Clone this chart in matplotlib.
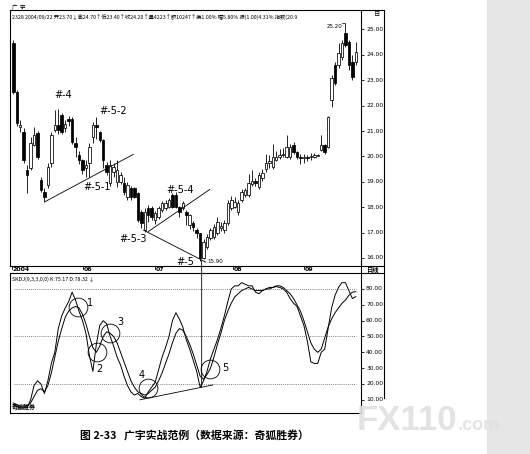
import matplotlib
matplotlib.use("Agg")
import matplotlib.pyplot as plt
import matplotlib.transforms as mtrans
from matplotlib.lines import Line2D
from matplotlib.patches import Rectangle, ConnectionPatch

plt.rcParams['font.family'] = ['Noto Sans CJK SC', 'DejaVu Sans']

# ---- data ----
opens = [24.46, 22.54, 21.15, 20.96, 19.46, 19.54, 20.45, 20.92, 19.07, 18.60,
         18.87, 19.74, 21.04, 21.24, 21.63, 21.10, 21.47, 21.47, 20.53, 20.06,
         19.86, 19.54, 19.74, 20.76, 21.24, 20.96, 20.65, 19.66, 18.95, 19.39,
         18.99, 18.99, 18.95, 18.40, 18.76, 18.76, 18.56, 17.81, 17.10, 17.97,
         17.97, 17.50, 17.61, 17.89, 17.97, 18.00, 18.48, 18.48, 18.00, 17.97,
         17.81, 17.30, 17.38, 17.10, 16.98, 16.00, 16.43, 16.79, 16.83, 16.98,
         17.18, 17.10, 17.38, 17.97, 18.00, 17.81, 18.28, 18.48, 18.48, 18.91,
         19.03, 18.80, 19.15, 19.50, 19.74, 19.58, 19.86, 19.98, 20.04, 19.98,
         19.98, 20.45, 20.17, 19.98, 19.92, 19.96, 19.96, 19.98, 20.02, 20.25,
         20.45, 20.37, 22.22, 23.60, 23.60, 23.91, 24.86, 24.50, 23.72, 23.72]
highs = [24.60, 22.60, 21.43, 21.10, 19.66, 20.75, 21.16, 21.00, 19.20, 18.75,
         19.75, 20.95, 21.83, 21.85, 21.70, 21.45, 21.60, 21.55, 20.75, 20.20,
         19.90, 19.86, 20.53, 21.35, 21.55, 21.00, 20.70, 19.78, 19.86, 19.75,
         19.86, 19.40, 19.20, 19.00, 18.85, 18.80, 18.60, 17.90, 17.95, 18.10,
         18.05, 17.85, 18.05, 18.25, 18.30, 18.36, 18.55, 18.60, 18.05, 18.25,
         17.90, 17.75, 17.45, 17.20, 17.00, 16.75, 16.95, 17.20, 17.35, 17.60,
         17.40, 17.50, 18.30, 18.45, 18.40, 18.30, 18.70, 18.75, 19.30, 19.45,
         19.15, 19.40, 19.50, 20.10, 20.05, 20.50, 20.20, 20.30, 20.35, 20.85,
         20.50, 20.55, 20.20, 20.10, 20.10, 20.05, 20.12, 20.15, 20.10, 20.85,
         20.50, 21.60, 23.20, 23.70, 24.45, 24.60, 25.20, 24.60, 24.00, 24.50]
lows = [22.45, 21.20, 20.96, 19.75, 18.56, 19.46, 20.40, 19.90, 18.60, 18.20,
        18.75, 19.60, 20.95, 20.90, 20.90, 20.95, 21.20, 20.50, 19.98, 19.70,
        19.30, 19.20, 19.20, 20.53, 20.70, 20.55, 19.54, 19.27, 18.83, 19.20,
        18.80, 18.90, 18.50, 18.30, 18.30, 18.35, 17.40, 17.20, 17.03, 17.40,
        17.50, 17.35, 17.55, 17.80, 17.90, 17.95, 17.95, 17.95, 17.60, 17.90,
        17.30, 17.15, 17.05, 16.80, 15.90, 15.95, 16.35, 16.70, 16.75, 16.90,
        17.05, 17.00, 17.30, 17.90, 17.95, 17.70, 18.20, 18.40, 18.40, 18.85,
        18.85, 18.70, 19.05, 19.40, 19.55, 19.50, 19.80, 19.90, 19.98, 19.95,
        19.90, 20.10, 19.90, 19.70, 19.75, 19.80, 19.85, 19.95, 20.00, 20.20,
        20.10, 20.35, 21.95, 22.80, 23.50, 23.80, 24.30, 23.40, 23.00, 23.60]
closes = [22.54, 21.31, 21.25, 19.86, 19.27, 20.53, 20.84, 19.98, 18.68, 18.40,
          19.58, 20.84, 21.24, 21.04, 20.96, 21.28, 21.39, 20.57, 20.37, 19.86,
          19.46, 19.66, 20.37, 21.24, 21.16, 20.65, 19.86, 19.39, 19.66, 19.58,
          19.46, 19.27, 18.60, 18.87, 18.40, 18.40, 17.50, 17.38, 17.81, 17.69,
          17.61, 17.77, 17.97, 18.17, 18.17, 18.28, 18.00, 18.00, 17.81, 18.17,
          17.69, 17.69, 17.22, 16.98, 16.00, 16.63, 16.83, 17.10, 17.22, 17.42,
          17.26, 17.38, 18.17, 18.28, 18.20, 18.17, 18.60, 18.68, 18.95, 19.03,
          18.95, 19.27, 19.35, 19.75, 19.80, 19.98, 19.98, 20.06, 20.08, 20.37,
          20.37, 20.17, 19.98, 19.94, 19.96, 19.92, 20.00, 20.06, 20.07, 20.45,
          20.17, 21.55, 23.09, 22.89, 24.07, 24.46, 24.39, 23.60, 23.13, 24.11]

k_vals = [7, 6, 5, 5, 5, 10, 19, 22, 20, 14,
          22, 33, 40, 55, 63, 68, 72, 78, 73, 66,
          60, 52, 38, 28, 45, 57, 60, 58, 50, 44,
          37, 32, 25, 19, 15, 13, 14, 12, 11, 15,
          18, 21, 29, 37, 43, 50, 60, 65, 61, 56,
          48, 42, 35, 28, 18, 22, 28, 36, 42, 48,
          55, 63, 72, 80, 82, 82, 84, 83, 82, 82,
          78, 77, 79, 80, 80, 81, 81.5, 81, 80, 78,
          74, 71, 69, 63, 57, 47, 34, 33, 33, 40,
          42, 55, 68, 76, 81, 84, 84, 79, 74, 75.17]
d_vals = [8, 7, 6, 6, 6, 8, 12, 16, 17, 15,
          19, 27, 37, 47, 55, 62, 66, 68, 69, 68,
          64, 58, 50, 43, 40, 44, 50, 53, 52, 50,
          46, 40, 34, 28, 22, 18, 15, 14, 13, 14,
          16, 18, 22, 27, 33, 39, 46, 52, 55, 54,
          50, 45, 39, 32, 25, 23, 26, 30, 37, 45,
          52, 60, 66, 71, 75, 77, 79, 80, 81, 80,
          79, 79, 79, 80, 81, 81, 82, 82, 81, 79,
          77, 74, 70, 66, 60, 53, 46, 42, 40, 42,
          49, 56, 61, 65, 68, 71, 73, 76, 78, 78.32]

price_ticks = [16, 17, 18, 19, 20, 21, 22, 23, 24, 25]
kd_ticks = [10, 20, 30, 40, 50, 60, 70, 80]
month_labels = ["2004", "06", "07", "08", "09"]
month_idx = [-0.5, 20.0, 41.0, 63.5, 84.0]

header = ("2328 2004/09/22 开23.70↓高24.70↑低23.40↑收24.20↑量4223↑额10247↑"
          "换1.00% 幅5.80% 振(1.00)4.31% 指数(20.9")

W, H = 530, 454
fig = plt.figure(figsize=(W / 100, H / 100), dpi=100)
fig.patch.set_facecolor('white')


def fx(x):
    return x / W


def fy(y):
    return 1 - y / H


def px_ax(x0, y0, x1, y1):
    return fig.add_axes([fx(x0), fy(y1), (x1 - x0) / W, (y1 - y0) / H])


def fig_line(xs, ys, lw=0.8, color='k'):
    fig.add_artist(Line2D([fx(v) for v in xs], [fy(v) for v in ys],
                          transform=fig.transFigure, color=color, lw=lw))


# right grey page edge
fig.add_artist(Rectangle((fx(487), 0), 1 - fx(487), 1, transform=fig.transFigure,
                         facecolor='#e6e6e6', edgecolor='none', zorder=0))

ax = px_ax(10, 10, 361, 266)
axk = px_ax(10, 273, 361, 413)

n = len(opens)
idx = list(range(n))

# ---- candles ----
for i in idx:
    o, h, l, c = opens[i], highs[i], lows[i], closes[i]
    ax.vlines(i, l, h, color='k', lw=0.6, zorder=1)
    bottom = min(o, c)
    height = max(abs(c - o), 0.03)
    face = 'k' if c < o else 'white'
    ax.add_patch(Rectangle((i - 0.36, bottom), 0.72, height, facecolor=face,
                           edgecolor='k', lw=0.55, zorder=2))

ax.set_xlim(-0.95, 100.5)
ax.set_ylim(15.685, 25.764)
ax.set_xticks([])
ax.yaxis.tick_right()
ax.set_yticks(price_ticks)
ax.tick_params(axis='y', length=2.5, width=0.6, labelright=False, direction='out')
for s in ax.spines.values():
    s.set_linewidth(0.8)

blend = mtrans.blended_transform_factory(ax.transAxes, ax.transData)
for p in price_ticks:
    ax.text(1.0145, p, "%.2f" % p, transform=blend, fontsize=4.3,
            family='DejaVu Sans', va='center', ha='left', clip_on=False)

# trend lines and labels on price chart
ax.plot([9.2, 34.7], [18.22, 20.08], color='k', lw=0.6)
ax.plot([39.0, 56.8], [17.04, 18.70], color='k', lw=0.6)
ax.plot([37.6, 55.6], [17.10, 15.84], color='k', lw=0.6)
lab = dict(fontsize=7, family='DejaVu Sans', ha='center', va='center')
ax.text(14.4, 22.42, "#-4", **lab)
ax.text(28.8, 21.80, "#-5-2", **lab)
ax.text(24.1, 18.80, "#-5-1", **lab)
ax.text(48.2, 18.68, "#-5-4", **lab)
ax.text(34.6, 16.75, "#-5-3", **lab)
ax.text(49.8, 15.86, "#-5", **lab)
ax.text(56.0, 15.86, "15.90", fontsize=4, family='DejaVu Sans', ha='left', va='center')
ax.text(95.0, 25.13, "25.20", fontsize=4, family='DejaVu Sans', ha='right', va='center')
ax.plot([95.1, 96.0, 96.0], [25.27, 25.27, 25.2], color='k', lw=0.5)

# ---- KD panel ----
axk.plot(idx, k_vals, color='k', lw=0.7)
axk.plot(idx, d_vals, color='k', lw=0.7)
for lvl in (80, 50, 20):
    axk.axhline(lvl, xmin=0.012, xmax=0.985, color='#555555', lw=0.6, ls=(0, (1, 1.5)))
axk.set_xlim(-0.95, 100.5)
axk.set_ylim(1.68, 90.1)
axk.set_xticks([])
axk.yaxis.tick_right()
axk.set_yticks(kd_ticks)
axk.tick_params(axis='y', length=2.5, width=0.6, labelright=False, direction='out')
for s in axk.spines.values():
    s.set_linewidth(0.8)
blendk = mtrans.blended_transform_factory(axk.transAxes, axk.transData)
for v in kd_ticks:
    axk.text(1.0145, v, "%.2f" % v, transform=blendk, fontsize=4.3,
             family='DejaVu Sans', va='center', ha='left', clip_on=False)

circles = [(18.8, 68.8), (24.1, 40.4), (27.9, 52.0), (39.0, 17.3), (56.85, 29.3)]
for cx, cy in circles:
    axk.plot(cx, cy, 'o', ms=13.5, mfc='none', mec='k', mew=0.6)
num = dict(fontsize=7, family='DejaVu Sans', ha='center', va='center')
axk.text(22.2, 71.2, "1", **num)
axk.text(24.9, 29.5, "2", **num)
axk.text(31.0, 59.4, "3", **num)
axk.text(37.1, 25.7, "4", **num)
axk.text(61.2, 29.9, "5", **num)
axk.plot([36.6, 57.7], [10.0, 19.4], color='k', lw=0.6)
axk.text(0.005, 0.975, "SKDJ(9,3,3,0,0) K:75.17 D:78.32 ↓", transform=axk.transAxes,
         fontsize=3.8, va='top', ha='left')
axk.text(0.005, 0.02, "奇狐胜券", transform=axk.transAxes, fontsize=4.3,
         weight='bold', va='bottom', ha='left')

# vertical marker line from the low down into the KD panel
fig.add_artist(ConnectionPatch(xyA=(54.45, 15.9), coordsA=ax.transData,
                               xyB=(54.45, 18.0), coordsB=axk.transData,
                               color='k', lw=0.6))

# ---- frame pieces, date row and header ----
fig_line([361, 384], [10, 10])
fig_line([384, 384], [10, 398])
fig_line([361, 384], [266, 266])
fig_line([361, 384], [273, 273])
fig_line([361, 361], [266, 273])
for lbl, mi in zip(month_labels, month_idx):
    xp = 13.3 + 3.46 * mi
    fig_line([xp, xp], [266, 269], lw=0.6)
    fig.text(fx(xp + 1), fy(269.7), lbl, fontsize=4.5, family='DejaVu Sans',
             weight='bold', va='center', ha='left')
fig.text(fx(366), fy(269.7), "日线", fontsize=4.5, weight='bold', va='center', ha='left')
fig.text(fx(374), fy(13.5), "日", fontsize=4.5, va='center', ha='left')
fig.text(fx(12), fy(7.5), "广  宇", fontsize=4, va='center', ha='left')
fig.text(fx(12), fy(17), header, fontsize=3.8, va='center', ha='left')

# watermark
fig.text(fx(357), fy(430), "FX110", fontsize=25, family='Liberation Sans',
         weight='bold', color='#e0e0e0', alpha=0.9, va='baseline', ha='left', zorder=5)
fig.text(fx(458), fy(430), ".com", fontsize=13, family='Liberation Sans',
         weight='bold', color='#e0e0e0', alpha=0.9, va='baseline', ha='left', zorder=5)

# caption
fig.text(fx(80), fy(436), "图 2-33   广宇实战范例（数据来源：奇狐胜券）", fontsize=7.8,
         weight='bold', va='center', ha='left')

fig.savefig("out.png", dpi=100)
